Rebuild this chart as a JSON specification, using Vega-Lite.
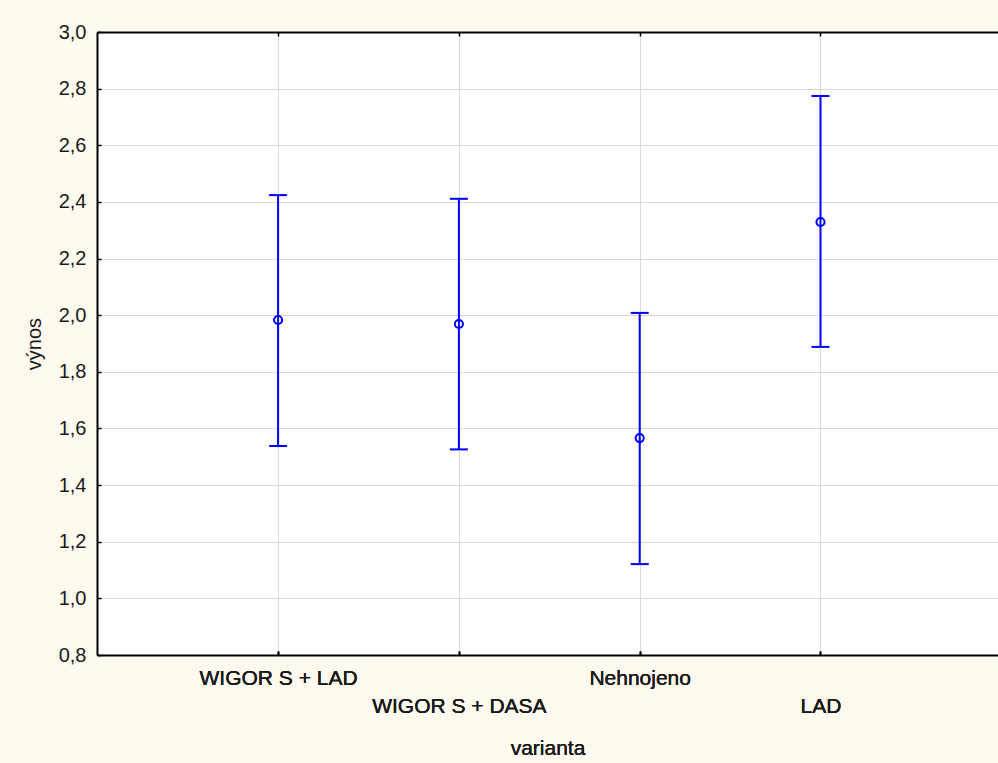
{
  "$schema": "https://vega.github.io/schema/vega-lite/v6.json",
  "width": 901,
  "height": 623,
  "autosize": {"type": "none"},
  "padding": {"left": 97, "top": 32, "right": 0, "bottom": 108},
  "background": "#fffaf0",
  "view": {"fill": "white", "stroke": null},
  "config": {
    "font": "Liberation Sans",
    "axis": {
      "labelColor": "#1a1a1a",
      "titleColor": "#1a1a1a",
      "titleFontWeight": "normal",
      "domainColor": "black",
      "domainWidth": 2,
      "tickColor": "black",
      "tickWidth": 1.5,
      "gridColor": "#d9d9d9",
      "gridWidth": 1
    }
  },
  "data": {
    "values": [
      {"varianta": "WIGOR S + LAD", "mean": 1.983, "lower": 1.538, "upper": 2.424},
      {"varianta": "WIGOR S + DASA", "mean": 1.969, "lower": 1.526, "upper": 2.411},
      {"varianta": "Nehnojeno", "mean": 1.566, "lower": 1.121, "upper": 2.008},
      {"varianta": "LAD", "mean": 2.329, "lower": 1.888, "upper": 2.774}
    ]
  },
  "encoding": {
    "x": {
      "field": "varianta",
      "type": "nominal",
      "sort": null,
      "scale": {"type": "point", "padding": 0.9917, "align": 0.505},
      "axis": {
        "orient": "bottom",
        "title": "varianta",
        "titleFontSize": 21,
        "titleY": 82,
        "titleBaseline": "top",
        "labelFontSize": 21,
        "labelAngle": 0,
        "labelLineHeight": 28,
        "labelExpr": "datum.value == 'WIGOR S + DASA' || datum.value == 'LAD' ? ['', datum.value] : datum.value",
        "tickSize": -4,
        "labelPadding": 16,
        "grid": true,
        "domain": false
      }
    }
  },
  "layer": [
    {
      "mark": {"type": "rule", "color": "#0000ff", "strokeWidth": 2},
      "encoding": {
        "y": {
          "field": "lower",
          "type": "quantitative",
          "scale": {"domain": [0.8, 3.0], "nice": false, "zero": false},
          "axis": {
            "title": "výnos",
            "titleFontSize": 20,
            "titlePadding": 14,
            "values": [0.8, 1.0, 1.2, 1.4, 1.6, 1.8, 2.0, 2.2, 2.4, 2.6, 2.8, 3.0],
            "labelExpr": "replace(format(datum.value, '.1f'), '.', ',')",
            "labelFontSize": 20,
            "tickSize": -4,
            "labelPadding": 15,
            "grid": true,
            "gridColor": {"condition": {"test": "datum.value <= 0.8 || datum.value >= 3", "value": "black"}, "value": "#d9d9d9"},
            "gridWidth": {"condition": {"test": "datum.value <= 0.8 || datum.value >= 3", "value": 2}, "value": 1},
            "domain": true
          }
        },
        "y2": {"field": "upper"}
      }
    },
    {
      "mark": {"type": "tick", "color": "#0000ff", "size": 18, "thickness": 2, "opacity": 1},
      "encoding": {"y": {"field": "lower", "type": "quantitative"}}
    },
    {
      "mark": {"type": "tick", "color": "#0000ff", "size": 18, "thickness": 2, "opacity": 1},
      "encoding": {"y": {"field": "upper", "type": "quantitative"}}
    },
    {
      "mark": {"type": "point", "shape": "circle", "filled": false, "color": "#0000ff", "size": 66, "strokeWidth": 2, "opacity": 1},
      "encoding": {
        "x": {
          "field": "varianta",
          "type": "nominal",
          "sort": null,
          "scale": {"type": "point", "padding": 0.9917, "align": 0.505},
          "axis": {
            "orient": "top",
            "title": null,
            "labels": false,
            "grid": false,
            "domain": false,
            "tickSize": -4
          }
        },
        "y": {"field": "mean", "type": "quantitative"}
      }
    }
  ]
}
